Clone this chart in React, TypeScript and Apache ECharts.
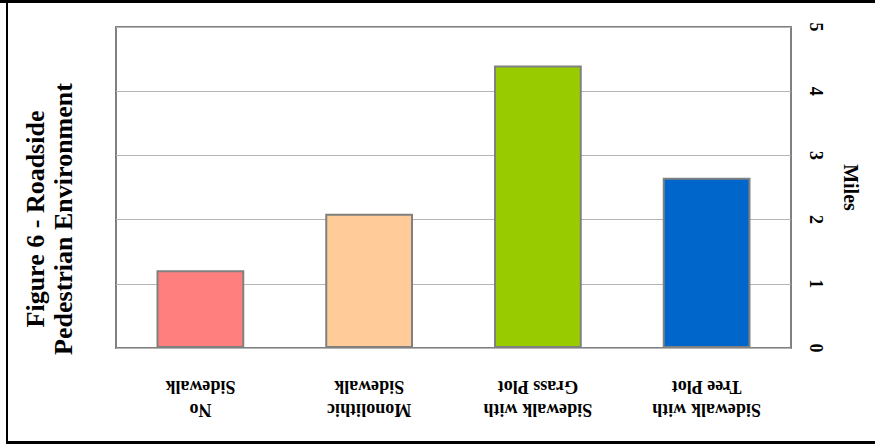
import React, { useEffect, useRef } from "react";
import * as echarts from "echarts";

const categories = ["No\nSidewalk", "Monolithic\nSidewalk", "Sidewalk with\nGrass Plot", "Sidewalk with\nTree Plot"];
const miles = [1.21, 2.09, 4.4, 2.65];
const barColors = ["#FF7F7F", "#FFCC99", "#99CC00", "#0066CC"];
const yTicks = { min: 0, max: 5, interval: 1 };
const titleText = "Figure 6 - Roadside\nPedestrian Environment";
const axisName = "Miles";

const FONT = "'Liberation Serif', 'DejaVu Serif', serif";

export default function App() {
  const ref = useRef<HTMLDivElement>(null);
  useEffect(() => {
    if (!ref.current) return;
    const chart = echarts.init(ref.current, null, { renderer: "svg" });
    chart.setOption({
      animation: false,
      backgroundColor: "#ffffff",
      grid: {
        left: 116,
        right: 84,
        top: 27,
        bottom: 96,
        show: true,
        borderColor: "#808080",
        borderWidth: 2,
        backgroundColor: "transparent",
      },
      xAxis: {
        type: "category",
        data: categories,
        axisLine: { show: false },
        axisTick: { show: false },
        axisLabel: {
          interval: 0,
          rotate: 180,
          margin: 27,
          fontFamily: FONT,
          fontWeight: "bold",
          fontSize: 18,
          lineHeight: 23,
          color: "#000000",
        },
      },
      yAxis: {
        type: "value",
        position: "right",
        min: yTicks.min,
        max: yTicks.max,
        interval: yTicks.interval,
        name: axisName,
        nameLocation: "middle",
        nameRotate: -90,
        nameGap: 50,
        nameTextStyle: {
          fontFamily: FONT,
          fontWeight: "bold",
          fontSize: 20,
          color: "#000000",
        },
        axisLine: { show: false },
        axisTick: { show: false },
        axisLabel: {
          rotate: -90,
          margin: 16,
          fontFamily: FONT,
          fontWeight: "bold",
          fontSize: 18,
          color: "#000000",
        },
        splitLine: { show: true, lineStyle: { color: "#B4B4B4", width: 1 } },
      },
      series: [
        {
          type: "bar",
          barWidth: "52%",
          data: miles.map((v, i) => ({
            value: v,
            itemStyle: { color: barColors[i] },
          })),
          itemStyle: { borderColor: "#808080", borderWidth: 2 },
        },
      ],
      graphic: [
        { type: "rect", shape: { x: 0, y: 0, width: 875, height: 3 }, style: { fill: "#000000" }, silent: true },
        { type: "rect", shape: { x: 6, y: 0, width: 2, height: 444 }, style: { fill: "#000000" }, silent: true },
        { type: "rect", shape: { x: 6, y: 441, width: 869, height: 3 }, style: { fill: "#000000" }, silent: true },
        {
          type: "text",
          x: 49,
          y: 219,
          rotation: Math.PI / 2,
          style: {
            text: titleText,
            fontFamily: FONT,
            fontWeight: "bold",
            fontSize: 26,
            lineHeight: 28,
            fill: "#000000",
            align: "center",
            verticalAlign: "middle",
          },
        },
      ],
    });
    return () => chart.dispose();
  }, []);
  return (
    <div
      ref={ref}
      style={{ position: "fixed", left: 0, top: 0, width: 875, height: 444 }}
    />
  );
}
